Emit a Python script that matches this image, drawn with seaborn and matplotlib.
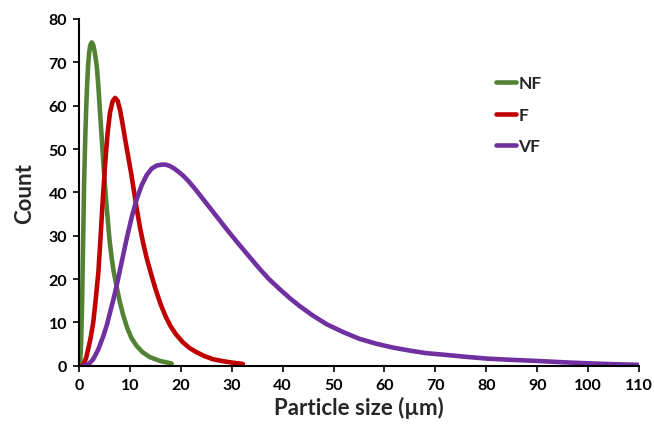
import matplotlib
matplotlib.use("Agg")
import matplotlib.pyplot as plt
import seaborn as sns
import pandas as pd

# Particle size distributions (size in µm, count)
nf_size = [0.2, 0.4, 0.6, 0.8, 1.0, 1.2, 1.4, 1.6, 1.8, 2.0, 2.2, 2.5, 2.8, 3.1,
           3.5, 3.8, 4.1, 4.5, 4.8, 5.3, 5.7, 6.0, 6.4, 6.8, 7.4, 8.0, 8.7, 9.5,
           10.3, 11.3, 12.5, 13.9, 15.9, 18.2]
nf_count = [0.0, 5.0, 14.0, 28.0, 42.0, 51.5, 59.0, 65.0, 69.5, 72.3, 73.9, 74.6,
            74.0, 72.3, 69.0, 64.5, 59.0, 52.0, 46.5, 38.5, 33.0, 29.0, 25.0,
            21.8, 18.2, 14.8, 11.6, 8.6, 6.4, 4.6, 3.1, 2.0, 1.1, 0.5]

f_size = [0.6, 1.0, 1.4, 1.8, 2.3, 2.8, 3.3, 3.8, 4.2, 4.6, 5.1, 5.6, 6.1, 6.6,
          7.1, 7.6, 8.1, 8.6, 9.1, 9.7, 10.3, 11.3, 12.0, 12.6, 13.3, 14.3, 15.0,
          16.0, 17.0, 18.0, 19.0, 20.4, 21.7, 23.1, 24.7, 26.3, 28.0, 29.6, 32.2]
f_count = [0.0, 0.6, 1.8, 3.8, 6.5, 10.0, 15.5, 21.5, 29.0, 37.0, 46.0, 53.5,
           58.5, 61.0, 61.8, 61.1, 58.8, 55.5, 52.0, 48.0, 44.0, 36.5, 31.8,
           28.3, 24.8, 20.6, 17.8, 14.3, 11.4, 9.1, 7.3, 5.4, 4.1, 3.1, 2.2, 1.5,
           1.1, 0.8, 0.4]

vf_size = [0.85, 1.5, 2.0, 2.8, 3.8, 4.8, 5.5, 6.1, 6.8, 7.4, 8.4, 9.4, 10.4,
           11.3, 12.3, 13.3, 14.3, 15.3, 16.3, 17.0, 17.8, 18.7, 19.6, 20.5,
           21.5, 23.0, 25.0, 27.0, 29.0, 31.0, 33.0, 35.3, 37.3, 39.4, 41.3,
           43.3, 45.9, 48.6, 51.8, 55.1, 58.3, 61.6, 64.9, 68.2, 72.0, 76.0,
           80.0, 85.0, 90.0, 95.0, 100.0, 105.0, 110.0]
vf_count = [0.0, 0.2, 0.5, 1.5, 3.8, 6.9, 9.5, 12.3, 15.5, 18.5, 24.0, 29.5,
            34.5, 38.3, 41.6, 44.0, 45.5, 46.2, 46.4, 46.4, 46.1, 45.5, 44.7,
            43.8, 42.6, 40.5, 37.5, 34.5, 31.5, 28.6, 25.8, 22.6, 20.0, 17.7,
            15.7, 13.8, 11.6, 9.6, 7.8, 6.2, 5.1, 4.2, 3.5, 2.9, 2.5, 2.05, 1.65,
            1.35, 1.1, 0.8, 0.55, 0.35, 0.2]

series_names = ["NF", "F", "VF"]
series_colors = ["#548235", "#C00000", "#7030A0"]
x_ticks = list(range(0, 111, 10))
y_ticks = list(range(0, 81, 10))

df = pd.concat([
    pd.DataFrame({"size": nf_size, "count": nf_count, "group": "NF"}),
    pd.DataFrame({"size": f_size, "count": f_count, "group": "F"}),
    pd.DataFrame({"size": vf_size, "count": vf_count, "group": "VF"}),
], ignore_index=True)

sns.set_style("ticks")
plt.rcParams["font.family"] = ["Lato", "DejaVu Sans"]
plt.rcParams["font.weight"] = "bold"

fig = plt.figure(figsize=(6.54, 4.27), dpi=100)
ax = fig.add_axes([0.1208, 0.1412, 0.8562, 0.8120])

sns.lineplot(data=df, x="size", y="count", hue="group", hue_order=series_names,
             palette=dict(zip(series_names, series_colors)), linewidth=3.3,
             sort=False, estimator=None, ax=ax, solid_capstyle="round",
             solid_joinstyle="round")

ax.set_xlim(0, 110)
ax.set_ylim(0, 80)
ax.set_xticks(x_ticks)
ax.set_yticks(y_ticks)
ax.tick_params(axis="both", direction="out", length=4.5, width=1.2,
               labelsize=11.5, colors="black", pad=4)
for lbl in ax.get_xticklabels() + ax.get_yticklabels():
    lbl.set_fontweight("bold")
for side in ("top", "right"):
    ax.spines[side].set_visible(False)
for side in ("left", "bottom"):
    ax.spines[side].set_linewidth(1.5)
    ax.spines[side].set_color("black")

ax.set_xlabel("Particle size (µm)", fontsize=16, fontweight="bold", labelpad=3)
ax.set_ylabel("Count", fontsize=16, fontweight="bold", labelpad=10)

leg = ax.legend(loc="upper left", bbox_to_anchor=(0.744, 0.838), frameon=False,
                borderaxespad=0, borderpad=0, handlelength=1.2,
                handletextpad=0.12, labelspacing=0.9, fontsize=12.5)
for t in leg.get_texts():
    t.set_fontweight("bold")
for h in leg.get_lines():
    h.set_linewidth(3.3)

fig.savefig("out.png", dpi=100)
